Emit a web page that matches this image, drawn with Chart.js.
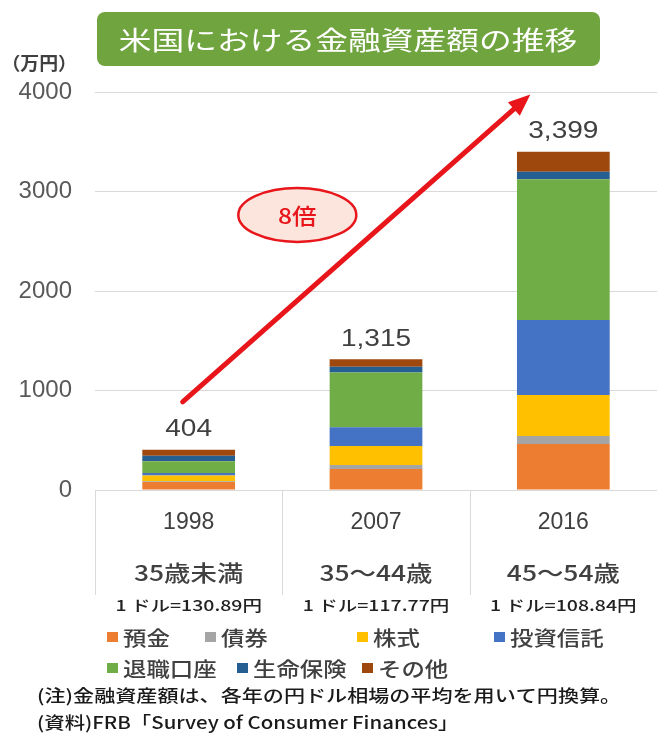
<!DOCTYPE html>
<html>
<head>
<meta charset="utf-8">
<script src="https://cdn.jsdelivr.net/npm/chart.js@4.4.1/dist/chart.umd.min.js"></script>
<style>
  html, body { margin: 0; padding: 0; background: #fff; }
  canvas { display: block; }
</style>
</head>
<body>
<canvas id="assetChart" width="657" height="734"></canvas>
<script>
// categories
const years = ["1998", "2007", "2016"];
const ageGroups = ["35歳未満", "35～44歳", "45～54歳"];
const fxRates = ["1 ドル=130.89円", "1 ドル=117.77円", "1 ドル=108.84円"];
const yTicks = [0, 1000, 2000, 3000, 4000];

// series (万円)
const deposits   = [80, 212, 462];   // 預金
const bonds      = [8, 40, 80];      // 債券
const stocks     = [57, 191, 412];   // 株式
const funds      = [27, 188, 754];   // 投資信託
const retirement = [117, 550, 1414]; // 退職口座
const insurance  = [55, 57, 77];     // 生命保険
const others     = [60, 77, 200];    // その他

const seriesNames = ["預金", "債券", "株式", "投資信託", "退職口座", "生命保険", "その他"];
const seriesValues = [deposits, bonds, stocks, funds, retirement, insurance, others];
const seriesColors = ["#ed7d31", "#a5a5a5", "#ffc000", "#4472c4", "#70ad47", "#255e91", "#9e480e"];

const JP = '"Noto Sans CJK JP", sans-serif';
const NUM = '"Liberation Sans", Arial, sans-serif';

// text drawn a bit wider than tall, like the source image
function wideText(ctx, text, x, y, stretch) {
    ctx.save();
    ctx.translate(x, y);
    ctx.scale(stretch, 1);
    ctx.fillText(text, 0, 0);
    ctx.restore();
}

// extra drawing: title, axis unit, category labels, totals, legend, notes, arrow
const decorations = {
    id: "decorations",
    afterDraw(chart) {
        const ctx = chart.ctx;
        const xs = chart.scales.x;
        const ys = chart.scales.y;
        const area = chart.chartArea;
        ctx.save();

        // title box
        ctx.fillStyle = "#6fa43f";
        ctx.beginPath();
        ctx.roundRect(97, 12, 503, 54, 8);
        ctx.fill();
        ctx.fillStyle = "#ffffff";
        ctx.font = "26px " + JP;
        ctx.textAlign = "center";
        ctx.textBaseline = "middle";
        wideText(ctx, "米国における金融資産額の推移", 348, 40, 1.26);

        // unit
        ctx.fillStyle = "#404040";
        ctx.font = "bold 18px " + JP;
        ctx.textAlign = "right";
        wideText(ctx, "（万円）", 77, 63, 1.05);

        // category separators under the axis
        ctx.strokeStyle = "#d9d9d9";
        ctx.lineWidth = 1;
        for (let i = 0; i < years.length; i++) {
            const left = i === 0 ? area.left : (xs.getPixelForValue(i - 1) + xs.getPixelForValue(i)) / 2;
            ctx.beginPath();
            ctx.moveTo(Math.round(left) + 0.5, area.bottom);
            ctx.lineTo(Math.round(left) + 0.5, area.bottom + 105);
            ctx.stroke();
        }

        // category labels
        ctx.textAlign = "center";
        years.forEach((yr, i) => {
            const x = xs.getPixelForValue(i);
            ctx.fillStyle = "#404040";
            ctx.font = "23px " + NUM;
            wideText(ctx, yr, x, area.bottom + 33, 1.0);
            ctx.font = "500 22px " + JP;
            wideText(ctx, ageGroups[i], x, area.bottom + 83, 1.2);
            ctx.fillStyle = "#222222";
            ctx.font = "500 15px " + JP;
            wideText(ctx, fxRates[i], x, area.bottom + 115, 1.3);
        });

        // totals above bars
        const topMeta = chart.getDatasetMeta(seriesValues.length - 1);
        ctx.fillStyle = "#404040";
        ctx.font = "23px " + NUM;
        years.forEach((yr, i) => {
            const total = seriesValues.reduce((s, arr) => s + arr[i], 0);
            const bar = topMeta.data[i];
            wideText(ctx, total.toLocaleString("en-US"), bar.x, bar.y - 20, 1.22);
        });

        // legend
        const legendPos = [[107, 637], [205, 637], [357, 637], [494, 637], [107, 668], [237, 668], [362, 668]];
        ctx.font = "500 20px " + JP;
        ctx.textAlign = "left";
        seriesNames.forEach((name, i) => {
            const [lx, ly] = legendPos[i];
            ctx.fillStyle = seriesColors[i];
            ctx.fillRect(lx, ly - 5, 11, 10);
            ctx.fillStyle = "#404040";
            wideText(ctx, name, lx + 16, ly + 1, 1.17);
        });

        // notes
        ctx.fillStyle = "#1a1a1a";
        ctx.font = "500 17px " + JP;
        wideText(ctx, "(注)金融資産額は、各年の円ドル相場の平均を用いて円換算。", 37, 696, 1.24);
        wideText(ctx, "(資料)FRB「Survey of Consumer Finances」", 37, 723, 1.2);

        // growth arrow
        const x0 = xs.getPixelForValue(0) - 6, y0 = ys.getPixelForValue(885);
        const x1 = xs.getPixelForValue(2) - 33, y1 = ys.getPixelForValue(3975);
        const ang = Math.atan2(y1 - y0, x1 - x0);
        const headLen = 22, headW = 9;
        const bx = x1 - headLen * Math.cos(ang), by = y1 - headLen * Math.sin(ang);
        ctx.strokeStyle = "#e8161b";
        ctx.fillStyle = "#e8161b";
        ctx.lineWidth = 5;
        ctx.lineCap = "round";
        ctx.beginPath();
        ctx.moveTo(x0, y0);
        ctx.lineTo(bx, by);
        ctx.stroke();
        ctx.beginPath();
        ctx.moveTo(x1, y1);
        ctx.lineTo(bx + headW * Math.sin(ang), by - headW * Math.cos(ang));
        ctx.lineTo(bx - headW * Math.sin(ang), by + headW * Math.cos(ang));
        ctx.closePath();
        ctx.fill();

        // "8倍" badge
        const ex = (xs.getPixelForValue(0) * 0.42 + xs.getPixelForValue(1) * 0.58);
        const ey = ys.getPixelForValue(2765);
        ctx.beginPath();
        ctx.ellipse(ex, ey, 59, 27, 0, 0, Math.PI * 2);
        ctx.fillStyle = "#fbe5dc";
        ctx.fill();
        ctx.lineWidth = 2.5;
        ctx.strokeStyle = "#e8161b";
        ctx.stroke();
        ctx.fillStyle = "#e8161b";
        ctx.font = "500 22px " + JP;
        ctx.textAlign = "center";
        wideText(ctx, "8倍", ex, ey + 1, 1.12);

        ctx.restore();
    }
};

new Chart(document.getElementById("assetChart"), {
    type: "bar",
    data: {
        labels: years,
        datasets: seriesNames.map((name, i) => ({
            label: name,
            data: seriesValues[i],
            backgroundColor: seriesColors[i],
            borderWidth: 0,
            categoryPercentage: 1,
            barPercentage: 0.495
        }))
    },
    options: {
        responsive: false,
        devicePixelRatio: 1,
        animation: false,
        layout: { padding: { top: 92, bottom: 236, left: 0, right: 0 } },
        plugins: {
            legend: { display: false },
            tooltip: { enabled: false }
        },
        scales: {
            x: {
                stacked: true,
                grid: { display: false },
                border: { display: false },
                ticks: { display: false }
            },
            y: {
                stacked: true,
                min: 0,
                max: 4000,
                afterBuildTicks(scale) {
                    scale.ticks = yTicks.map(v => ({ value: v }));
                },
                afterFit(scale) {
                    scale.width = 95;
                },
                grid: { color: "#d9d9d9", drawTicks: false },
                border: { display: false },
                ticks: {
                    padding: 23,
                    color: "#595959",
                    font: { family: NUM, size: 24 },
                    callback: v => String(v)
                }
            }
        }
    },
    plugins: [decorations]
});
</script>
</body>
</html>
